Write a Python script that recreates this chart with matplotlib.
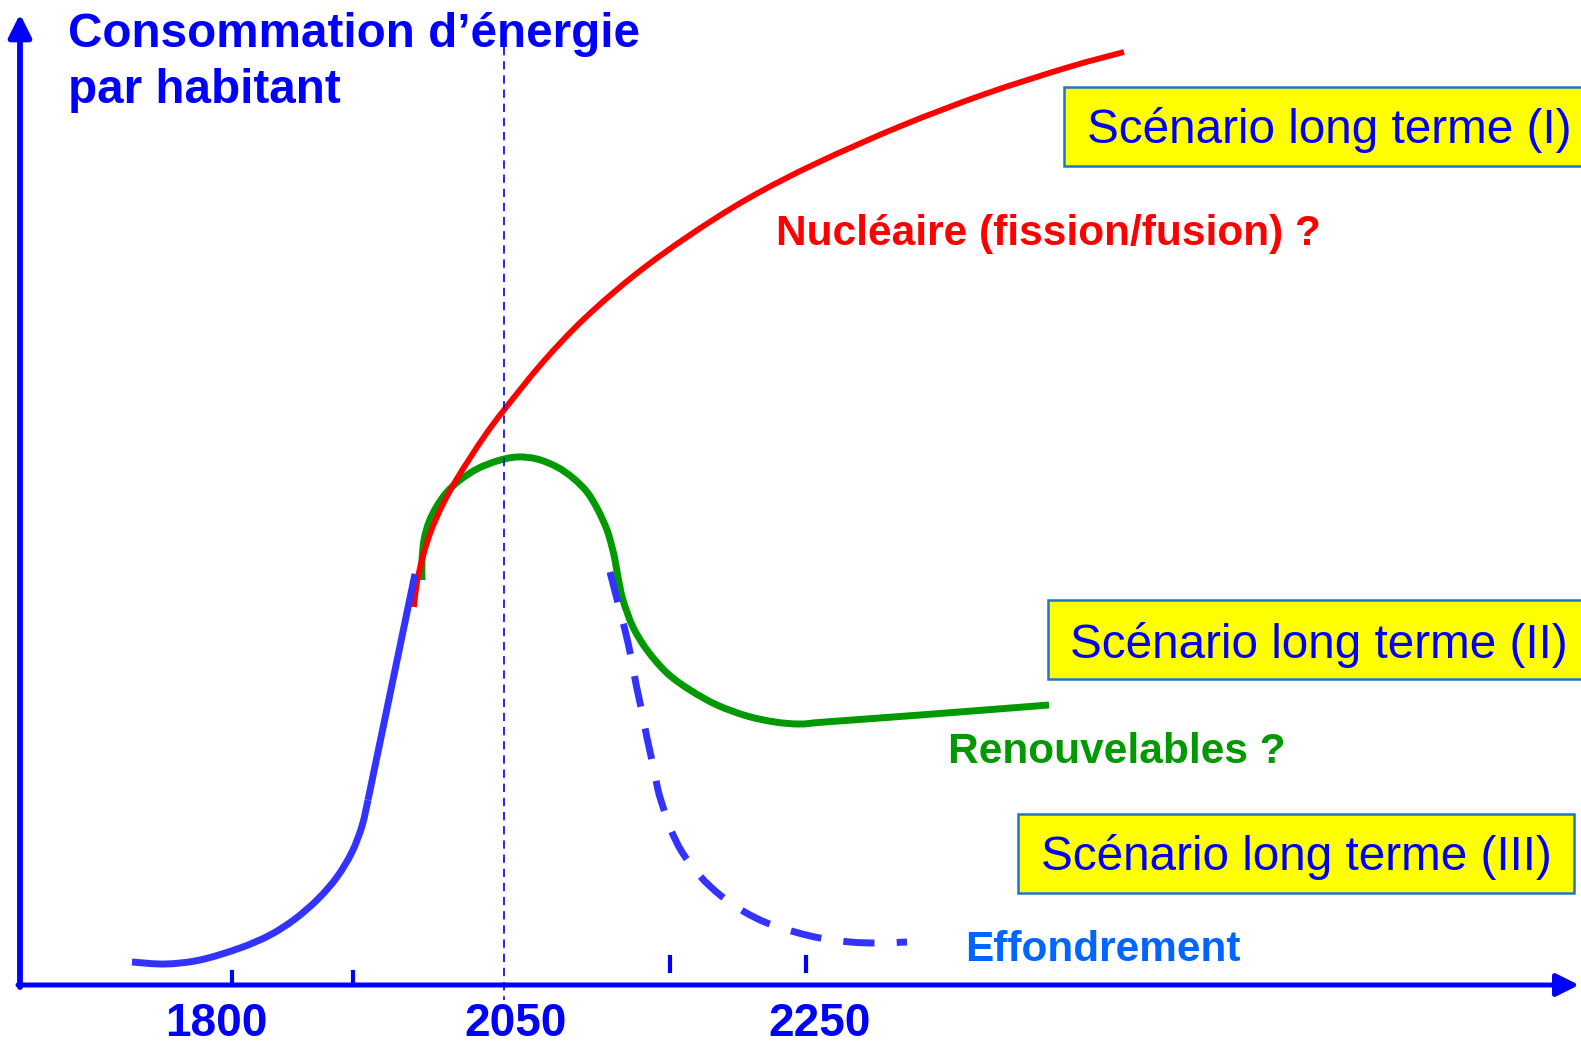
import matplotlib
matplotlib.use("Agg")
import matplotlib.pyplot as plt
from matplotlib.patches import Rectangle, PathPatch
from matplotlib.path import Path

# Schéma: coordonnées (pixels, y vers le bas)
W, H = 1581, 1046

# historique (bleu plein) : partie courbe puis montée droite
hist_x = [132, 165, 200, 240, 270, 295, 318, 337, 352, 362, 368]
hist_y = [962, 964, 960, 948, 935, 919, 899, 877, 852, 826, 800]
rise_x = [368, 415]
rise_y = [800, 574]

# scénario I : nucléaire (rouge)
nuc_x = [414, 417, 423, 431, 442, 455, 470, 486, 504, 543, 585, 636, 690, 749, 817, 901, 985, 1069, 1124]
nuc_y = [607, 582, 556, 531, 506, 482, 458, 434, 410, 362, 318, 274, 235, 198, 163, 126, 94, 67, 52]

# scénario II : renouvelables (vert)
ren_x = [422, 422, 424, 429, 437, 447, 460, 477, 497, 517, 537, 557, 573, 587, 598, 607, 612, 615,
         618, 623, 633, 647, 667, 690, 717, 747, 775, 800, 825, 920, 1049]
ren_y = [580, 560, 540, 522, 506, 492, 480, 469, 461, 457, 459, 467, 478, 492, 510, 530, 547, 560,
         577, 600, 627, 650, 673, 690, 705, 716, 722, 724, 722, 715, 705]

# scénario III : effondrement (bleu tirets)
eff_x = [610, 618, 625, 631, 636, 642, 647, 653, 658, 664, 671, 682, 700, 720, 743, 767, 795, 820, 850, 877, 907]
eff_y = [572, 603, 630, 657, 684, 712, 738, 765, 790, 810, 830, 852, 876, 895, 911, 923, 932, 938, 942, 943, 942]

# axe des années
tick_labels = ["1800", "2050", "2250"]
tick_label_x = [216, 516, 820]
low_ticks_x = [232, 353]
high_ticks_x = [670, 806]
x_2050 = 504

scenarios = ["Scénario long terme (I)", "Scénario long terme (II)", "Scénario long terme (III)"]

BLUE = "#0000FF"
CURVE_BLUE = "#3333FF"
GREEN = "#009900"
RED = "#FF0000"


def courbe(xs, ys):
    # courbe lisse passant par les points (segments de Bézier type Catmull-Rom)
    pts = list(zip(xs, ys))
    verts = [pts[0]]
    codes = [Path.MOVETO]
    n = len(pts)
    for i in range(n - 1):
        p0 = pts[i - 1] if i > 0 else pts[i]
        p1 = pts[i]
        p2 = pts[i + 1]
        p3 = pts[i + 2] if i + 2 < n else p2
        c1 = (p1[0] + (p2[0] - p0[0]) / 6, p1[1] + (p2[1] - p0[1]) / 6)
        c2 = (p2[0] - (p3[0] - p1[0]) / 6, p2[1] - (p3[1] - p1[1]) / 6)
        verts += [c1, c2, p2]
        codes += [Path.CURVE4] * 3
    return Path(verts, codes)


plt.rcParams["font.family"] = ["Liberation Sans", "DejaVu Sans"]

fig = plt.figure(figsize=(W / 100, H / 100), dpi=100)
ax = fig.add_axes([0, 0, 1, 1])
ax.set_xlim(0, W)
ax.set_ylim(H, 0)
ax.axis("off")

# axes avec flèches
ax.annotate("", xy=(1579, 985), xytext=(18, 985),
            arrowprops=dict(arrowstyle="-|>", color=BLUE, lw=3.6, mutation_scale=34,
                            shrinkA=0, shrinkB=0))
ax.annotate("", xy=(20, 14), xytext=(20, 987),
            arrowprops=dict(arrowstyle="-|>", color=BLUE, lw=4.2, mutation_scale=34,
                            shrinkA=0, shrinkB=0))

for x in low_ticks_x:
    ax.plot([x, x], [972, 985], color=BLUE, lw=3)
for x in high_ticks_x:
    ax.plot([x, x], [957, 971], color=BLUE, lw=3)

ax.plot([x_2050, x_2050], [47, 1000], color=BLUE, lw=1.2, dashes=(5, 3.5))

for lab, x in zip(tick_labels, tick_label_x):
    ax.text(x, 1036, lab, color=BLUE, fontsize=33, fontweight="bold",
            ha="center", va="baseline")

ax.text(68, 47, "Consommation d’énergie", color=BLUE, fontsize=34.3,
        fontweight="bold", va="baseline")
ax.text(68, 103, "par habitant", color=BLUE, fontsize=34.3,
        fontweight="bold", va="baseline")

# courbes
ax.add_patch(PathPatch(courbe(hist_x, hist_y), fill=False, edgecolor=CURVE_BLUE, lw=5,
                       capstyle="butt", joinstyle="round"))
ax.plot(rise_x, rise_y, color=CURVE_BLUE, lw=5, solid_capstyle="butt")
ax.add_patch(PathPatch(courbe(ren_x, ren_y), fill=False, edgecolor=GREEN, lw=5,
                       capstyle="butt", joinstyle="round"))
ax.add_patch(PathPatch(courbe(nuc_x, nuc_y), fill=False, edgecolor=RED, lw=4.2,
                       capstyle="butt", joinstyle="round"))
ax.add_patch(PathPatch(courbe(eff_x, eff_y), fill=False, edgecolor=CURVE_BLUE, lw=5,
                       linestyle=(0, (4.5, 3.2)), capstyle="butt"))

ax.text(776, 245, "Nucléaire (fission/fusion) ?", color=RED, fontsize=30.5,
        fontweight="bold", va="baseline")
ax.text(948, 763, "Renouvelables ?", color=GREEN, fontsize=30.5,
        fontweight="bold", va="baseline")
ax.text(965, 961, "Effondrement", color="#0066FF", fontsize=30.5,
        fontweight="bold", va="baseline")

# encadrés jaunes
boxes = [(1064, 87, 1600, 166, 1087, 143),
         (1048, 600, 1600, 679, 1070, 658),
         (1018, 814, 1574, 893, 1041, 870)]
for txt, (x0, y0, x1, y1, tx, ty) in zip(scenarios, boxes):
    ax.add_patch(Rectangle((x0, y0), x1 - x0, y1 - y0, facecolor="#FFFF00",
                           edgecolor="#1F75C8", lw=1.8, zorder=3))
    ax.text(tx, ty, txt, color=BLUE, fontsize=34.3, va="baseline", zorder=4)

fig.savefig("out.png", dpi=100)
